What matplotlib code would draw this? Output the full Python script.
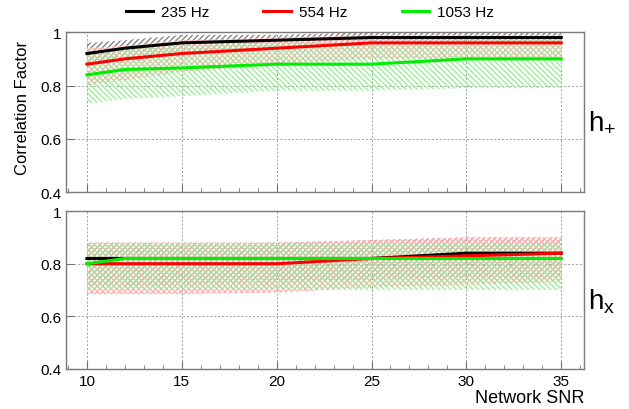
"""
Correlation factor vs network SNR for h+ and hx polarisations
"""
import matplotlib
matplotlib.use('Agg')
import matplotlib.pyplot as plt
import numpy as np

plt.rcParams['font.family'] = ['Liberation Sans', 'DejaVu Sans']
plt.rcParams['hatch.linewidth'] = 0.9

# ============================================================================
# DATA
# ============================================================================
snr = [10, 12, 15, 20, 25, 30, 35]
labels = ['235 Hz', '554 Hz', '1053 Hz']
colors = ['black', '#ff0000', '#00ee00']
hatch_colors = ['#7a7a7a', '#ffb0b0', '#90f090']
hatches = ['//////', 'xxxxxx', '\\\\\\\\\\\\']

# h+ panel
plus_mean = [
    [0.92, 0.94, 0.96, 0.97, 0.98, 0.98, 0.98],
    [0.88, 0.90, 0.92, 0.94, 0.96, 0.96, 0.96],
    [0.84, 0.86, 0.866, 0.88, 0.88, 0.90, 0.90],
]
plus_low = [
    [0.88, 0.90, 0.92, 0.94, 0.95, 0.95, 0.95],
    [0.80, 0.82, 0.85, 0.88, 0.90, 0.90, 0.90],
    [0.73, 0.75, 0.76, 0.78, 0.78, 0.79, 0.79],
]
plus_high = [
    [0.96, 0.97, 0.99, 0.99, 1.00, 1.00, 1.00],
    [0.94, 0.95, 0.97, 0.98, 0.99, 0.99, 0.99],
    [0.93, 0.94, 0.95, 0.96, 0.96, 0.97, 0.97],
]

# hx panel
cross_mean = [
    [0.82, 0.82, 0.82, 0.82, 0.82, 0.84, 0.84],
    [0.80, 0.80, 0.80, 0.80, 0.82, 0.83, 0.84],
    [0.80, 0.82, 0.82, 0.82, 0.82, 0.82, 0.82],
]
cross_low = [
    [0.72, 0.72, 0.72, 0.73, 0.74, 0.75, 0.75],
    [0.685, 0.685, 0.685, 0.69, 0.71, 0.72, 0.73],
    [0.70, 0.70, 0.70, 0.70, 0.70, 0.70, 0.70],
]
cross_high = [
    [0.88, 0.88, 0.88, 0.88, 0.89, 0.90, 0.90],
    [0.88, 0.88, 0.88, 0.88, 0.89, 0.90, 0.90],
    [0.88, 0.88, 0.88, 0.88, 0.88, 0.88, 0.88],
]

yticks = [0.4, 0.6, 0.8, 1.0]
ytick_labels = ['0.4', '0.6', '0.8', '1']
xticks = [10, 15, 20, 25, 30, 35]

# legend entry anchors along the top of the figure
legend_x = [0.195, 0.414, 0.634]


def style_axis(ax, show_xlabels):
    ax.set_xlim(8.9, 36.2)
    ax.set_ylim(0.4, 1.0)
    ax.set_yticks(yticks)
    ax.set_yticklabels(ytick_labels)
    ax.set_xticks(xticks)
    ax.set_xticks(np.arange(9, 37, 1), minor=True)
    ax.tick_params(axis='both', which='both', direction='in', labelsize=11,
                   color='#707070')
    ax.tick_params(axis='both', which='major', length=6)
    ax.tick_params(axis='both', which='minor', length=3)
    ax.tick_params(axis='y', which='minor', left=False)
    if not show_xlabels:
        ax.set_xticklabels([])
    ax.grid(True, which='major', ls=(0, (2, 2)), color='#a0a0a0', lw=0.7)
    for side in ['left', 'right', 'top', 'bottom']:
        ax.spines[side].set_color('#7a7a7a')
        ax.spines[side].set_linewidth(1.0)


def draw_panel(ax, mean, low, high):
    for i in range(3):
        ax.fill_between(snr, low[i], high[i], facecolor='none',
                        edgecolor=hatch_colors[i], hatch=hatches[i],
                        linewidth=0, zorder=1 + i)
    for i in range(3):
        ax.plot(snr, mean[i], color=colors[i], lw=2.2, zorder=5 + i,
                label=labels[i])


fig = plt.figure(figsize=(6.29, 4.10), dpi=100)
ax_top = fig.add_axes([0.105, 0.529, 0.8235, 0.390])
ax_bot = fig.add_axes([0.105, 0.0976, 0.8235, 0.385])

draw_panel(ax_top, plus_mean, plus_low, plus_high)
draw_panel(ax_bot, cross_mean, cross_low, cross_high)
style_axis(ax_top, False)
style_axis(ax_bot, True)

ax_top.set_ylabel('Correlation Factor', fontsize=12)
ax_top.yaxis.set_label_coords(-0.07, 0.53)
ax_bot.set_xlabel('Network SNR', fontsize=13, loc='right', labelpad=1)

fig.text(0.935, 0.70, r'$\mathregular{h_{+}}$', fontsize=20, va='center')
fig.text(0.935, 0.265, r'$\mathregular{h_x}$', fontsize=20, va='center')

# one legend per entry so the spacing can be set directly
handles, leg_labels = ax_top.get_legend_handles_labels()
for h, lab, xpos in zip(handles, leg_labels, legend_x):
    leg = fig.legend([h], [lab], loc='upper left', frameon=False,
                     bbox_to_anchor=(xpos, 0.992), fontsize=11,
                     handlelength=1.8, handletextpad=0.5,
                     borderpad=0.2, borderaxespad=0)

fig.savefig('out.png', dpi=100)
